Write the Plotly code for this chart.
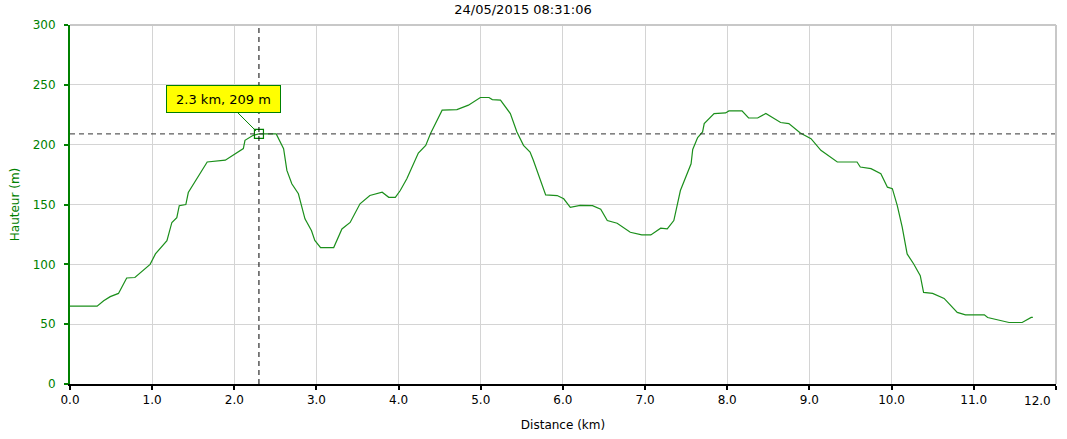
import plotly.graph_objects as go

# ---- data ----
distance_km = [0.0, 0.33, 0.41, 0.49, 0.59, 0.69, 0.79, 0.975, 1.04, 1.18, 1.24, 1.30, 1.33, 1.41, 1.44,
               1.54, 1.67, 1.89, 2.11, 2.13, 2.23, 2.30, 2.51, 2.60, 2.64, 2.70, 2.78, 2.86, 2.94, 2.98,
               3.05, 3.21, 3.31, 3.41, 3.53, 3.65, 3.80, 3.88, 3.96, 4.02, 4.10, 4.24, 4.33, 4.39, 4.53,
               4.71, 4.85, 4.995, 5.10, 5.14, 5.24, 5.36, 5.44, 5.52, 5.60, 5.64, 5.73, 5.79, 5.93, 6.01,
               6.09, 6.21, 6.36, 6.46, 6.54, 6.66, 6.82, 6.96, 7.07, 7.19, 7.27, 7.35, 7.43, 7.51, 7.56,
               7.58, 7.64, 7.70, 7.72, 7.84, 7.98, 8.02, 8.18, 8.26, 8.37, 8.47, 8.65, 8.75, 8.89, 9.02,
               9.14, 9.34, 9.58, 9.62, 9.75, 9.87, 9.95, 10.01, 10.07, 10.13, 10.19, 10.27, 10.35, 10.39,
               10.50, 10.64, 10.80, 10.90, 11.13, 11.17, 11.37, 11.43, 11.59, 11.70, 11.72]
altitude_m = [65, 65, 69.5, 73, 75.7, 88.6, 89, 100, 108.7, 119.8, 135, 139, 149, 150, 160,
              171.5, 185.5, 187, 196.7, 203.6, 207.8, 209, 209, 196.7, 178.5, 167.3, 159, 138, 128, 120,
              114, 114, 129.6, 135, 150.6, 157.5, 160.3, 156, 156, 161.7, 171.5, 193, 199.4, 209.5, 228.8,
              229.3, 233, 239.4, 239.4, 237.7, 237.2, 226, 210.6, 199.4, 193.8, 187, 170, 158, 157.5, 154.8,
              147.7, 149.2, 149, 146, 136.6, 134.3, 126.8, 124.6, 124.6, 130.2, 129.6, 136.6, 161.7, 175.7, 184,
              196, 206, 210.6, 217.6, 226, 226.5, 228.2, 228.2, 222.3, 222.3, 226, 218.5, 217.6, 209.8, 205,
              195.3, 185.5, 185.5, 181.3, 180, 175.7, 164.5, 163.2, 149, 131, 108.7, 100.3, 90.5, 76.5,
              75.7, 71.5, 59.8, 57.8, 57.8, 55.6, 52.8, 51.4, 51.4, 55.6, 55.6]

cursor_km = 2.3
cursor_m = 209
title_text = "24/05/2015 08:31:06"
x_ticks = [0, 1, 2, 3, 4, 5, 6, 7, 8, 9, 10, 11, 12]
y_ticks = [0, 50, 100, 150, 200, 250, 300]

FONT = "DejaVu Sans"
GREEN_LINE = "#1b8f1b"
GREEN_AXIS = "#008000"

# x tick labels; the last one is drawn as an annotation nudged left (as in the original)
x_ticktext = [f"{v:.1f}" for v in x_ticks]
last_label = x_ticktext[-1]
x_ticktext[-1] = ""

fig = go.Figure()

fig.add_trace(go.Scatter(
    x=distance_km, y=altitude_m, mode="lines",
    line=dict(color=GREEN_LINE, width=1.2),
    hoverinfo="skip", showlegend=False,
))

# cursor point marker
fig.add_trace(go.Scatter(
    x=[cursor_km], y=[cursor_m], mode="markers",
    marker=dict(symbol="square-open", size=9, color=GREEN_AXIS, line=dict(width=1.2)),
    showlegend=False, hoverinfo="skip",
))

# cursor crosshair lines
fig.add_shape(type="line", xref="x", yref="paper", x0=cursor_km, x1=cursor_km, y0=0, y1=1,
              line=dict(color="black", width=1, dash="5px,4px"), layer="above")
fig.add_shape(type="line", xref="paper", yref="y", x0=0, x1=1, y0=cursor_m, y1=cursor_m,
              line=dict(color="#333333", width=1, dash="5px,4px"), layer="above")

# plot frame top/right
fig.add_shape(type="line", xref="paper", yref="paper", x0=0, x1=1, y0=1, y1=1,
              line=dict(color="#c8c8c8", width=2))
fig.add_shape(type="line", xref="paper", yref="paper", x0=1, x1=1, y0=0, y1=1,
              line=dict(color="#c8c8c8", width=2))

# last x tick label
fig.add_annotation(
    x=x_ticks[-1], xref="x", y=0, yref="paper", text=last_label, showarrow=False,
    xanchor="right", yanchor="top", xshift=-3, yshift=-8,
    font=dict(family=FONT, size=12, color="black"),
)

# callout
fig.add_annotation(
    x=cursor_km, y=cursor_m, xref="x", yref="y",
    text=f"{cursor_km} km, {cursor_m} m",
    showarrow=True, arrowhead=0, arrowcolor=GREEN_AXIS, arrowwidth=1,
    ax=-35, ay=-35, standoff=4,
    bgcolor="#ffff00", bordercolor=GREEN_AXIS, borderwidth=1, borderpad=4,
    width=105, height=18,
    font=dict(family=FONT, size=13, color="black"),
)

fig.update_layout(
    width=1067, height=439,
    margin=dict(l=70, r=11, t=25, b=55, autoexpand=False),
    paper_bgcolor="white", plot_bgcolor="white",
    font=dict(family=FONT, size=12, color="black"),
    title=dict(text=title_text, x=523 / 1067, xref="container", xanchor="center",
               y=1 - 9 / 439, yref="container", yanchor="middle",
               font=dict(family=FONT, size=13, color="black"), automargin=False),
    showlegend=False,
)

fig.update_xaxes(
    range=[0, 12.002], tickvals=x_ticks, ticktext=x_ticktext,
    showgrid=True, gridcolor="#d4d4d4", gridwidth=1,
    showline=True, linecolor="black", linewidth=2,
    ticks="outside", ticklen=4, tickwidth=2, tickcolor="black",
    tickfont=dict(family=FONT, size=12, color="black"),
    zeroline=False, automargin=False,
    title=dict(text="Distance (km)", font=dict(family=FONT, size=12, color="black"), standoff=14),
)
fig.update_yaxes(
    range=[0, 300], tickvals=y_ticks,
    showgrid=True, gridcolor="#d4d4d4", gridwidth=1,
    showline=True, linecolor=GREEN_AXIS, linewidth=2,
    ticks="outside", ticklen=4, tickwidth=2, tickcolor=GREEN_AXIS,
    tickfont=dict(family=FONT, size=12, color=GREEN_AXIS),
    ticklabelstandoff=6,
    zeroline=False, automargin=False,
    title=dict(text="Hauteur (m)", font=dict(family=FONT, size=12, color=GREEN_AXIS), standoff=10),
)

fig.write_html("out.html", config={"displayModeBar": False},
               post_script="document.body.style.margin='0';document.body.style.overflow='hidden';")
